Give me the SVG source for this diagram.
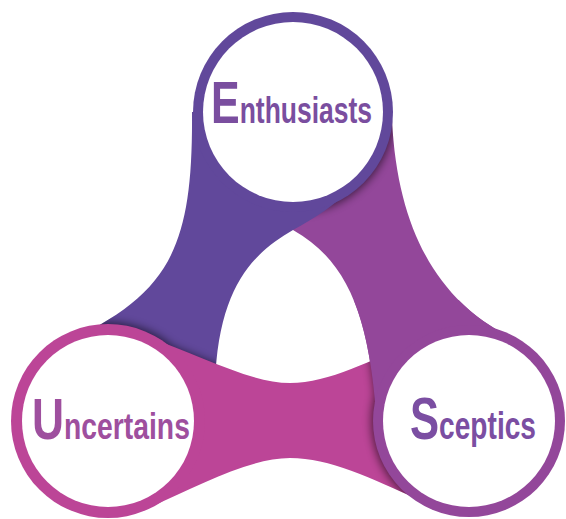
<svg xmlns="http://www.w3.org/2000/svg" xmlns:xlink="http://www.w3.org/1999/xlink" width="566" height="519" viewBox="0 0 566 519">
  <style>
    .lbl { font-family: "Liberation Sans", Arial, sans-serif; font-weight: bold; }
    .inner { fill: #ffffff; }
    .shadow { fill: #000000; opacity: 0.55; }
  </style>
  <defs>
    <filter id="blur" x="-30%" y="-30%" width="160%" height="160%">
      <feGaussianBlur stdDeviation="4"/>
    </filter>
    <path id="tailP" d="M 293,112 L 192,112 C 193,250 170,295 60,345 L 108,421 L 215,385 C 218,285 255,252 293,230 C 315,218 335,205 352,188 Z"/>
    <path id="tailM" d="M 293,112 L 390,105 L 392,120 C 398,240 445,305 512,338 L 469,421 L 377,425 C 370,320 350,262 293,230 L 260,190 Z"/>
    <path id="tailK" d="M 108,421 L 145,336 C 200,355 250,383 290,383 C 330,383 370,360 420,340 L 440,421 L 420,500 C 370,478 330,458 290,458 C 250,458 200,485 150,507 Z"/>
    <clipPath id="clipP"><use xlink:href="#tailP"/></clipPath>
    <clipPath id="clipM"><use xlink:href="#tailM"/></clipPath>
    <clipPath id="clipK"><use xlink:href="#tailK"/></clipPath>
    <clipPath id="lower"><rect x="0" y="300" width="566" height="219"/></clipPath>
  </defs>

  <g id="connectors">
    <use xlink:href="#tailM" fill="#93479a"/>
    <g clip-path="url(#clipM)">
      <g class="shadow" filter="url(#blur)">
        <circle cx="293" cy="112" r="102"/>
      </g>
    </g>
    <use xlink:href="#tailP" fill="#61489b"/>
    <g clip-path="url(#clipP)">
      <g class="shadow" filter="url(#blur)">
        <circle cx="108" cy="421" r="99"/>
        <use xlink:href="#tailK"/>
      </g>
    </g>
    <use xlink:href="#tailK" fill="#bc4597"/>
    <g clip-path="url(#clipK)">
      <g class="shadow" filter="url(#blur)">
        <circle cx="469" cy="421" r="98"/>
        <use xlink:href="#tailM"/>
      </g>
    </g>
    <use xlink:href="#tailM" fill="#93479a" clip-path="url(#lower)"/>
  </g>

  <g id="enthusiasts">
    <circle cx="293" cy="112" r="100" fill="#61489b"/>
    <circle class="inner" cx="293" cy="112" r="90"/>
    <text class="lbl" transform="translate(211,122.7) scale(0.716,1)" fill="#7a4e9f"><tspan font-size="60">E</tspan><tspan font-size="37">nthusiasts</tspan></text>
  </g>

  <g id="uncertains">
    <circle cx="108" cy="421" r="97" fill="#bc4597"/>
    <circle class="inner" cx="108" cy="421" r="86"/>
    <text class="lbl" transform="translate(32,438.5) scale(0.765,1)" fill="#9e4f9e"><tspan font-size="58">U</tspan><tspan font-size="37">ncertains</tspan></text>
  </g>

  <g id="sceptics">
    <circle cx="469" cy="421" r="96" fill="#93479a"/>
    <circle class="inner" cx="469" cy="421" r="86"/>
    <text class="lbl" transform="translate(410,438.5) scale(0.74,1)" fill="#7b4ea2"><tspan font-size="59">S</tspan><tspan font-size="38">ceptics</tspan></text>
  </g>
</svg>
